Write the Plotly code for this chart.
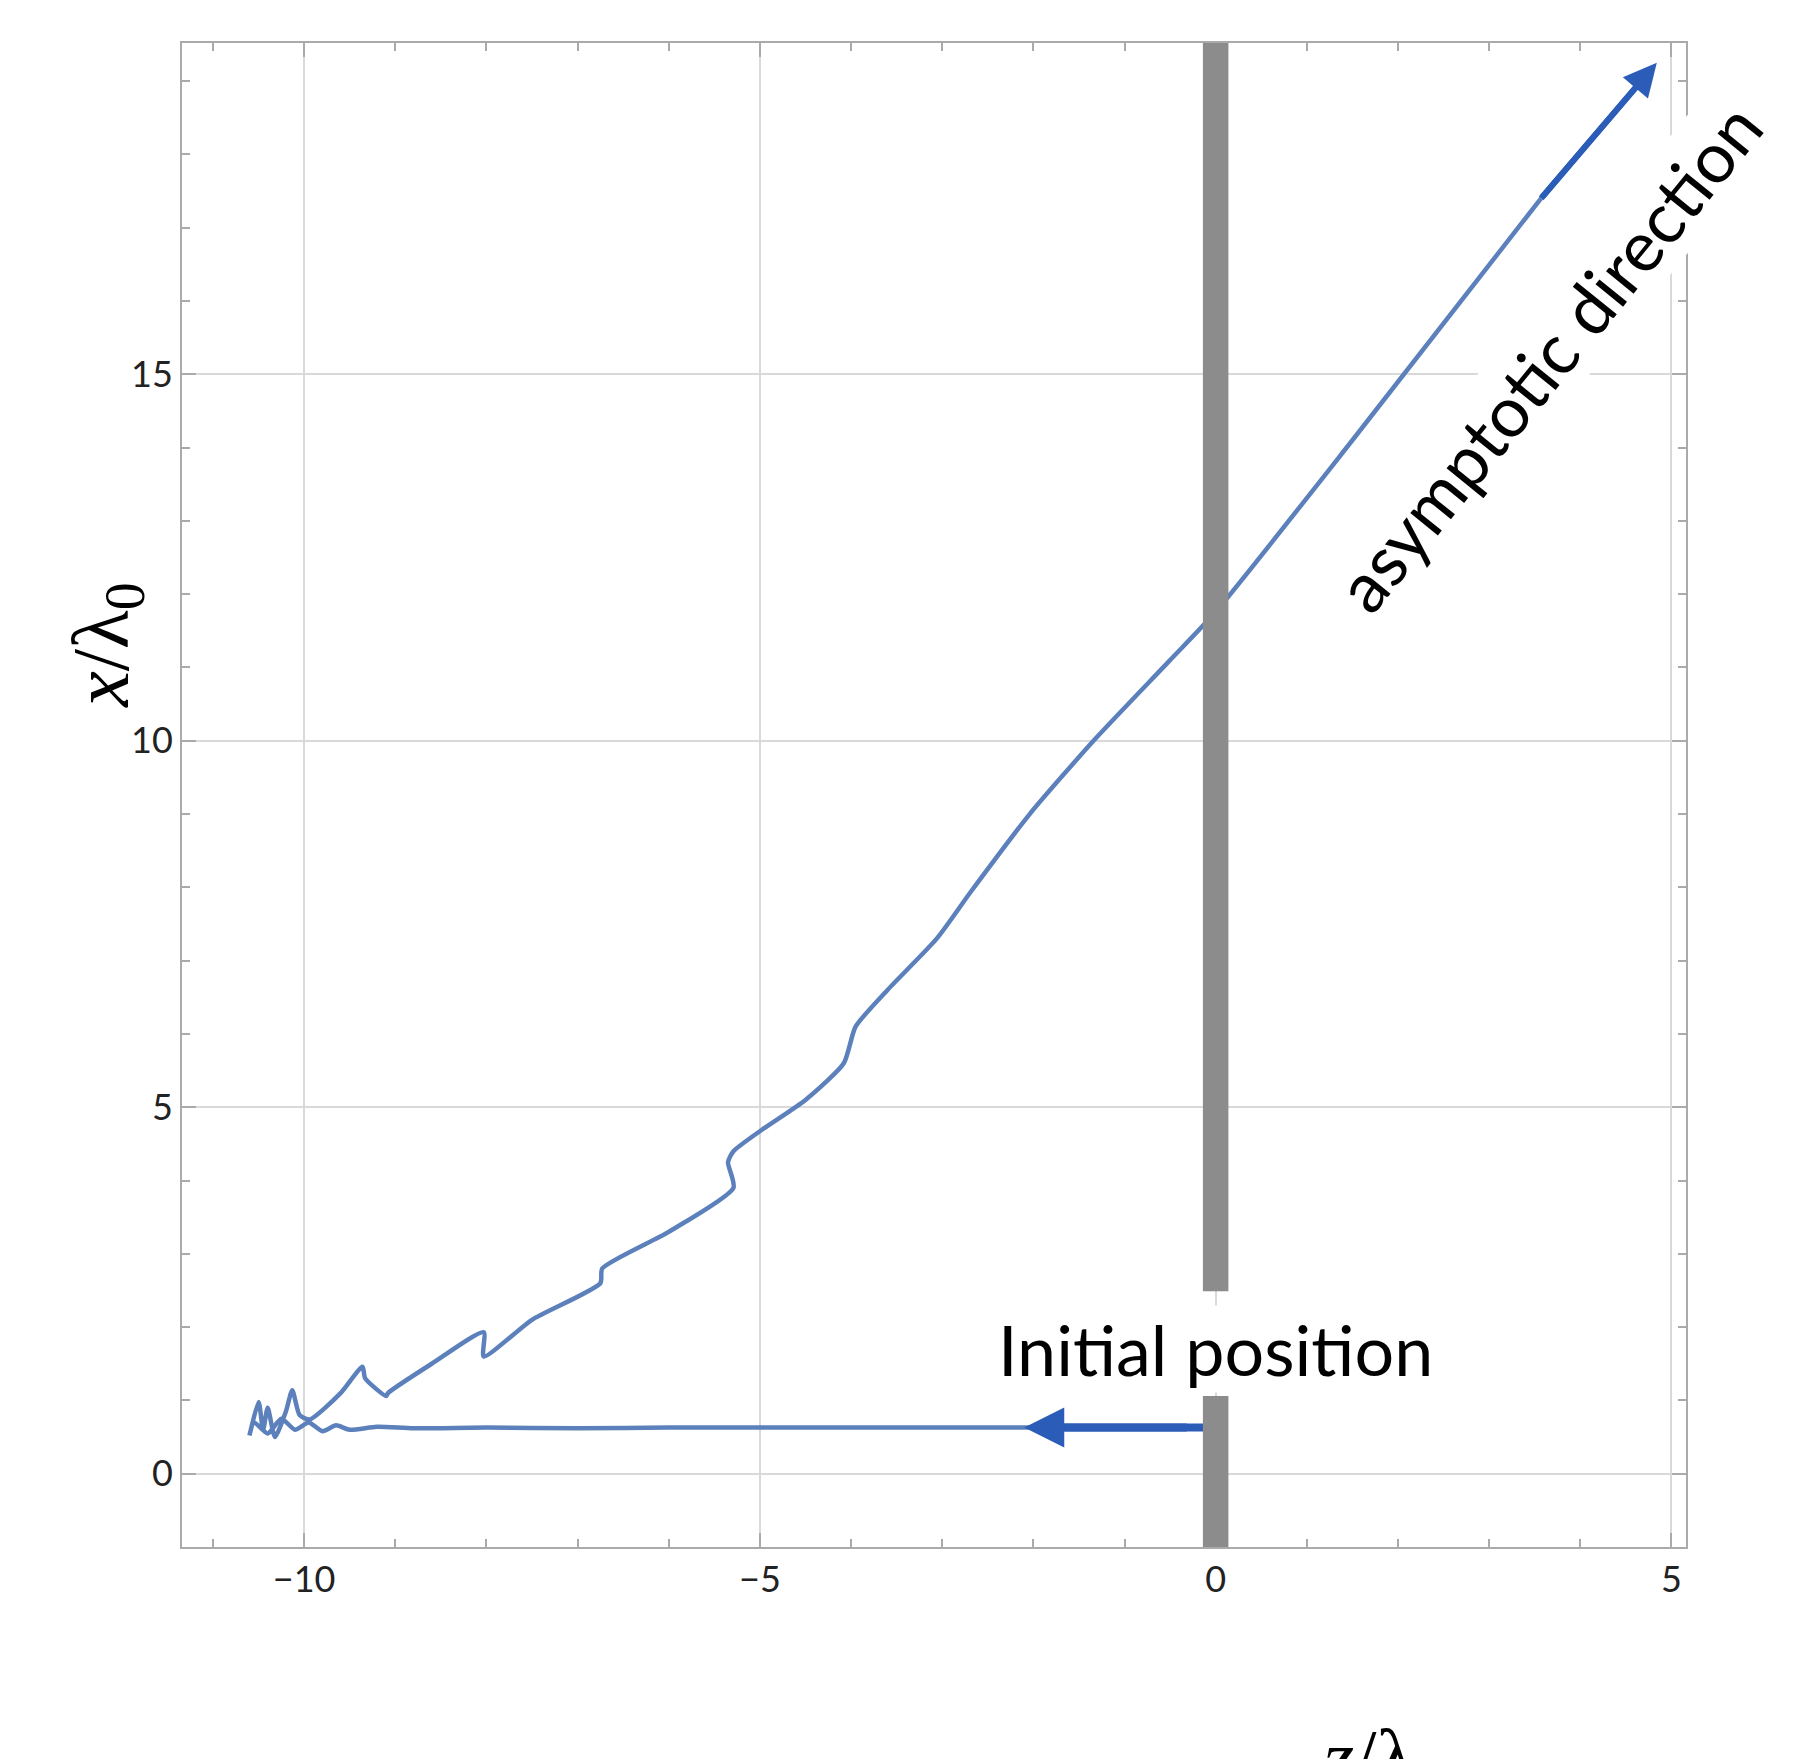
import plotly.graph_objects as go

# trajectory (z, x) in units of lambda0
out_z = [0, -2, -4, -6, -7, -8, -8.8, -9.2, -9.5, -9.65, -9.8, -9.95, -10.1, -10.25, -10.4, -10.55, -10.6]
out_x = [0.63, 0.63, 0.63, 0.63, 0.62, 0.63, 0.62, 0.64, 0.6, 0.66, 0.58, 0.7, 0.6, 0.75, 0.55, 0.7, 0.52]
ret_z = [-10.6, -10.5, -10.45, -10.4, -10.32, -10.2, -10.13, -10.05, -9.94, -9.6, -9.36, -9.33, -9.1, -9.08, -8.6, -8.03, -8.03,
         -7.5, -6.75, -6.73, -6.0, -5.29, -5.35, -5.29, -4.97, -4.5, -4.08, -3.95, -3.6, -3.06, -2.68, -2.04, -1.34, -0.5, 0, 1.5, 3.57]
ret_x = [0.52, 0.98, 0.6, 0.9, 0.5, 0.85, 1.14, 0.8, 0.74, 1.1, 1.46, 1.3, 1.06, 1.1, 1.5, 1.93, 1.6,
         2.1, 2.6, 2.8, 3.3, 3.9, 4.25, 4.4, 4.7, 5.1, 5.6, 6.1, 6.6, 7.3, 7.95, 9.0, 10.0, 11.1, 11.76, 14.1, 17.4]
asym_start = (3.57, 17.4)
asym_end = (4.84, 19.25)
init_arrow = (-2.1, 0.63)

line_col = "#5b80bb"
arrow_col = "#2a5cb8"

fig = go.Figure()
fig.add_trace(go.Scatter(x=out_z + ret_z, y=out_x + ret_x, mode="lines",
                         line=dict(color=line_col, width=4.5, shape="spline", smoothing=0.6),
                         showlegend=False, hoverinfo="skip"))
fig.add_trace(go.Scatter(x=[asym_start[0], asym_end[0] - 0.15], y=[asym_start[1], asym_end[1] - 0.22], mode="lines",
                         line=dict(color=arrow_col, width=6), showlegend=False))
fig.add_trace(go.Scatter(x=[0, init_arrow[0] + 0.3], y=[0.63, 0.63], mode="lines",
                         line=dict(color=arrow_col, width=8), showlegend=False))

# wall
fig.add_shape(type="rect", x0=-0.14, x1=0.14, y0=-1.0, y1=1.06, fillcolor="#8c8c8c", line_width=0, layer="above")
fig.add_shape(type="rect", x0=-0.14, x1=0.14, y0=2.49, y1=19.52, fillcolor="#8c8c8c", line_width=0, layer="above")

fig.add_annotation(x=asym_end[0], y=asym_end[1], ax=asym_start[0], ay=asym_start[1], xref="x", yref="y",
                   axref="x", ayref="y", showarrow=True, arrowhead=2, arrowsize=1.1, arrowwidth=6,
                   arrowcolor=arrow_col, text="")
fig.add_annotation(x=init_arrow[0], y=init_arrow[1], ax=-0.3, ay=0.63, xref="x", yref="y",
                   axref="x", ayref="y", showarrow=True, arrowhead=2, arrowsize=1.0, arrowwidth=8,
                   arrowcolor=arrow_col, text="")
fig.add_annotation(x=0, y=1.7, text="Initial position", showarrow=False,
                   font=dict(family="Lato", size=70, color="black"), bgcolor="white")
fig.add_annotation(x=3.65, y=15.25, text="asymptotic direction", showarrow=False, textangle=-51,
                   font=dict(family="Lato", size=70, color="black"), bgcolor="white")
fig.add_annotation(xref="paper", yref="paper", x=0.84, y=-0.11, yanchor="top", text="<i>z</i>/λ<sub>0</sub>",
                   showarrow=False, font=dict(family="Liberation Serif", size=80, color="black"))
fig.add_annotation(xref="paper", yref="paper", x=-0.085, y=0.6, text="<i>x</i>/λ<sub>0</sub>", showarrow=False,
                   textangle=-90, font=dict(family="Liberation Serif", size=80, color="black"))

axis_common = dict(showline=True, linecolor="#aaaaaa", linewidth=2, mirror="ticks", ticks="inside",
                   ticklen=14, tickwidth=1.5, tickcolor="#aaaaaa", showgrid=True, gridcolor="#d9d9d9",
                   gridwidth=1.5, zeroline=False, tickfont=dict(family="Lato", size=36, color="#222"),
                   minor=dict(ticks="inside", ticklen=8, dtick=1, tickcolor="#aaaaaa", showgrid=False))
fig.update_xaxes(range=[-11.34, 5.16], tickvals=[-10, -5, 0, 5], **axis_common)
fig.update_yaxes(range=[-1.0, 19.52], tickvals=[0, 5, 10, 15], **axis_common)
fig.update_layout(width=1812, height=1759, plot_bgcolor="white", paper_bgcolor="white",
                  margin=dict(l=174, r=134, t=35, b=220), showlegend=False)
fig.write_html("out.html")
